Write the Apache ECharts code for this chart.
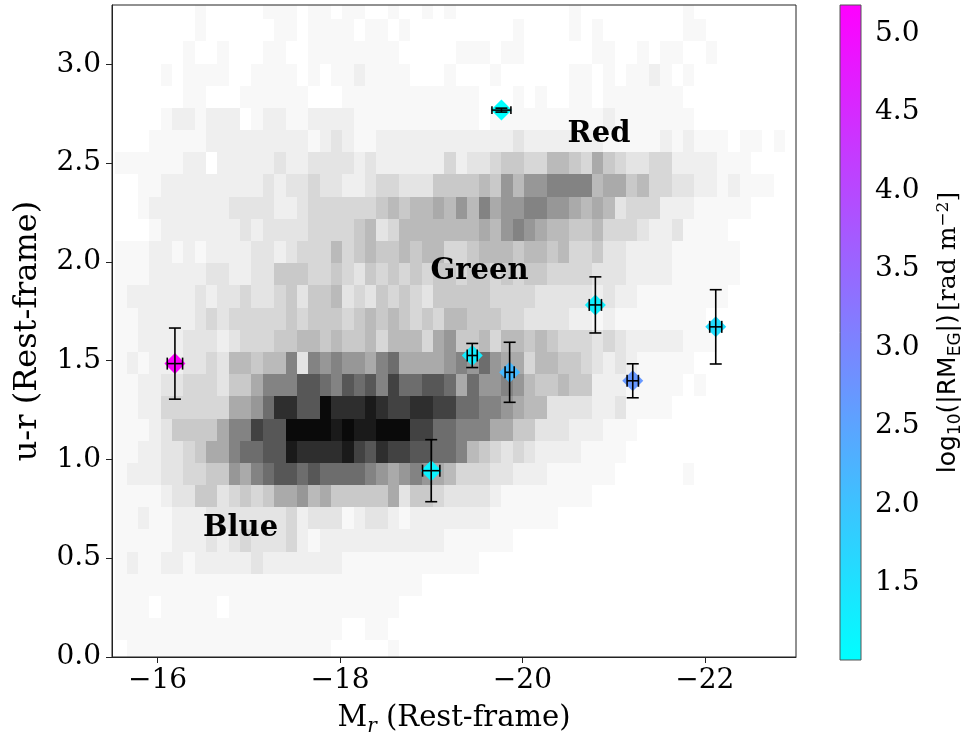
<!DOCTYPE html>
<html><head><meta charset="utf-8">
<script src="https://cdn.jsdelivr.net/npm/echarts@6/dist/echarts.min.js"></script>
<style>html,body{margin:0;padding:0;background:#fff}#c{width:965px;height:742px}</style>
</head><body><div id="c"></div>
<script>
// 2D histogram of galaxies: darkness level per bin (hex digit, 0 = empty ... f = darkest)
// rows listed from top (highest u-r) to bottom; columns from Mr = -15.5 towards -23
const HIST_ROWS = [
  "00000001000001110110" + "11001001010000000000" + "10000000001000000000",
  "00000001000000110111" + "10110100000000010000" + "10100000001100000000",
  "00000010010001100111" + "11111000001110110000" + "00110010110010000000",
  "00001011110011110101" + "12111100010001000000" + "11010112101000000000",
  "00000011000111111000" + "11111111111100010100" + "11011111110000000000",
  "00001221222012211222" + "21111111111101111111" + "11121111111000000000",
  "00011111222222222123" + "21122222222222232222" + "22211111212111011010",
  "11111122022222322333" + "32322222242334554466" + "54754334422221110000",
  "00112222222223233433" + "22344333555565868899" + "99677564433221211100",
  "00122222223333223444" + "44456566768697889988" + "76763444222111110000",
  "00012222222323333444" + "45634666666676898766" + "55644432231111000000",
  "11122121222233234446" + "45655656644566656656" + "44533222211111100000",
  "11122222332233555445" + "43545454554554545544" + "44333222211111100000",
  "12222223233433453556" + "34354543555554444333" + "33232211111111000000",
  "11222223434444454555" + "45656545466555443333" + "22121111111100000000",
  "11222233323444556656" + "55646664785564665654" + "44343222221110000000",
  "12122233436656693989" + "8879a7777898a8774665" + "54323211111000000000",
  "1122334443557999bba9" + "bab9caabba7a88986556" + "55222111110100000000",
  "1122444444778addbbfd" + "ddedccddccaa99876633" + "33223111100000000000",
  "111235555799cbbffffe" + "feefffccaa9997755333" + "22211100000000000000",
  "11223345779aabbedddd" + "ecbdccbbaa9654343222" + "21111000000000000000",
  "1222334455879abbabaa" + "aa987898764443322211" + "11110000001000000000",
  "11112335534545778675" + "55557355433332111111" + "11000000000000000000",
  "11211222333333342333" + "12332122222221111110" + "00000000000000000000",
  "11111222323433342122" + "22222222211111100000" + "00000000000000000000",
  "12112212222232222222" + "11111111111100000000" + "00000000000000000000",
  "11111111111111111111" + "11111110000000000000" + "00000000000000000000",
  "11101111101111111111" + "11111000000000000000" + "00000000000000000000",
  "11111111111111111111" + "00110000000000000000" + "00000000000000000000",
  "01111111111111111110" + "00001000000000000000" + "00000000000000000000"
];
const HIST_X_START = -15.535;  // Mr of the first bin edge
const HIST_X_STEP = -0.1245;   // bin width in Mr
const HIST_Y_START = -0.0283;  // u-r of the lowest bin edge
const HIST_Y_STEP = 0.1123;    // bin height in u-r
const GREYS = ["#ffffff","#f8f8f8","#efefef","#e4e4e4","#d7d7d7","#c9c9c9","#bababa","#aaaaaa",
               "#979797","#838383","#6d6d6d","#575757","#424242","#2e2e2e","#1a1a1a","#0a0a0a"];

// RM sources
const srcMr    = [-16.19, -19.77, -19.45, -19.86, -19.00, -20.80, -21.21, -22.12];
const srcUR    = [1.485, 2.768, 1.526, 1.441, 0.943, 1.782, 1.398, 1.671];
const srcMrErr = [0.084, 0.104, 0.055, 0.050, 0.095, 0.067, 0.062, 0.066];
const srcURErr = [0.180, 0.010, 0.061, 0.152, 0.157, 0.142, 0.086, 0.188];
const srcLogRM = [5.18, 1.01, 1.30, 2.15, 1.20, 1.25, 2.70, 1.55];

const RM_MIN = 1.01, RM_MAX = 5.18;
const xTicks = [-16, -18, -20, -22];
const yTicks = [0, 0.5, 1.0, 1.5, 2.0, 2.5, 3.0];
const cbTicks = [1.5, 2.0, 2.5, 3.0, 3.5, 4.0, 4.5, 5.0];

const regionNames = ["Red", "Green", "Blue"];
const regionMr = [-20.84, -19.53, -16.91];
const regionUR = [2.647, 1.953, 0.649];

const SERIF = '"DejaVu Serif", serif';
const SANS = '"DejaVu Sans", sans-serif';

const histData = [];
HIST_ROWS.forEach((s, i) => {
  const row = HIST_ROWS.length - 1 - i;
  for (let c = 0; c < s.length; c++) {
    const lv = parseInt(s[c], 16);
    if (lv > 0) {
      const xa = HIST_X_START + c * HIST_X_STEP;
      const ya = HIST_Y_START + row * HIST_Y_STEP;
      histData.push([xa, ya, xa + HIST_X_STEP, ya + HIST_Y_STEP, lv]);
    }
  }
});

const pts = srcMr.map((m, i) => [m, srcUR[i], srcLogRM[i]]);
const errs = srcMr.map((m, i) => [m, srcUR[i], srcMrErr[i], srcURErr[i]]);
const labels = regionNames.map((n, i) => [regionMr[i], regionUR[i], n]);

function renderHist(params, api) {
  const p0 = api.coord([api.value(0), api.value(1)]);
  const p1 = api.coord([api.value(2), api.value(3)]);
  const x0 = Math.round(Math.min(p0[0], p1[0])), x1 = Math.round(Math.max(p0[0], p1[0]));
  const y0 = Math.round(Math.min(p0[1], p1[1])), y1 = Math.round(Math.max(p0[1], p1[1]));
  const cs = params.coordSys;
  const shape = echarts.graphic.clipRectByRect(
    {x: x0, y: y0, width: x1 - x0, height: y1 - y0},
    {x: cs.x, y: cs.y, width: cs.width, height: cs.height});
  if (!shape) return;
  return {type: 'rect', shape: shape, style: {fill: GREYS[api.value(4)]}};
}

function renderErr(params, api) {
  const x = api.value(0), y = api.value(1), ex = api.value(2), ey = api.value(3);
  const c = api.coord([x, y]);
  const top = api.coord([x, y + ey]), bot = api.coord([x, y - ey]);
  const lft = api.coord([x - ex, y]), rgt = api.coord([x + ex, y]);
  const cap = 6;
  const st = {stroke: '#000', lineWidth: 1.6};
  const L = (x1, y1, x2, y2) => ({type: 'line', shape: {x1, y1, x2, y2}, style: st});
  const capY = Math.min(cap, Math.abs(bot[1] - top[1]) / 2 + 2);
  return {type: 'group', children: [
    L(c[0], top[1], c[0], bot[1]),
    L(c[0] - cap, top[1], c[0] + cap, top[1]),
    L(c[0] - cap, bot[1], c[0] + cap, bot[1]),
    L(lft[0], c[1], rgt[0], c[1]),
    L(lft[0], c[1] - capY, lft[0], c[1] + capY),
    L(rgt[0], c[1] - capY, rgt[0], c[1] + capY)
  ]};
}

function renderBar(params, api) {
  const p0 = api.coord([0, RM_MAX]);
  const p1 = api.coord([1, RM_MIN]);
  return {type: 'rect',
    shape: {x: p0[0], y: p0[1], width: p1[0] - p0[0], height: p1[1] - p0[1]},
    style: {
      fill: new echarts.graphic.LinearGradient(0, 1, 0, 0, [
        {offset: 0, color: '#00ffff'}, {offset: 1, color: '#ff00ff'}]),
      stroke: '#555', lineWidth: 1
    }};
}

const chart = echarts.init(document.getElementById('c'), null, {renderer: 'canvas'});
chart.setOption({
  animation: false,
  backgroundColor: '#fff',
  grid: [
    {left: 112, right: 169, top: 5, bottom: 82, show: true, borderColor: '#222', borderWidth: 1, backgroundColor: 'transparent', z: 10},
    {left: 840, width: 36, top: 5, bottom: 82}
  ],
  xAxis: [
    {type: 'value', gridIndex: 0, min: -23, max: -15.5, inverse: true,
     splitLine: {show: false},
     axisLine: {show: true, onZero: false, lineStyle: {color: '#222', width: 1}},
     axisTick: {show: true, length: 6, customValues: xTicks, lineStyle: {color: '#222', width: 1}},
     axisLabel: {customValues: xTicks, formatter: v => '\u2212' + Math.abs(v), fontFamily: SERIF, fontSize: 28, color: '#000', margin: 10},
     name: '{a|M}{s|r}{a| (Rest-frame)}', nameLocation: 'middle', nameGap: 43,
     nameTextStyle: {rich: {
       a: {fontFamily: SERIF, fontSize: 29, color: '#000'},
       s: {fontFamily: SERIF, fontStyle: 'italic', fontSize: 20, color: '#000', verticalAlign: 'top', padding: [17, 0, 0, 0]}
     }}},
    {type: 'value', gridIndex: 1, min: 0, max: 1, show: false}
  ],
  yAxis: [
    {type: 'value', gridIndex: 0, min: 0, max: 3.3,
     splitLine: {show: false},
     axisLine: {show: true, onZero: false, lineStyle: {color: '#222', width: 1}},
     axisTick: {show: true, length: 6, customValues: yTicks, lineStyle: {color: '#222', width: 1}},
     axisLabel: {customValues: yTicks, formatter: v => v.toFixed(1), fontFamily: SERIF, fontSize: 28, color: '#000', margin: 11},
     name: 'u-r (Rest-frame)', nameLocation: 'middle', nameGap: 68, nameRotate: 90,
     nameTextStyle: {fontFamily: SERIF, fontSize: 32, color: '#000'}},
    {type: 'value', gridIndex: 1, min: RM_MIN, max: RM_MAX, position: 'right',
     splitLine: {show: false},
     axisLine: {show: false},
     axisTick: {show: true, length: 6, customValues: cbTicks, lineStyle: {color: '#222', width: 1}},
     axisLabel: {customValues: cbTicks, formatter: v => v.toFixed(1), fontFamily: SERIF, fontSize: 28, color: '#000', margin: 14},
     name: '{s|log}{b|10}{s|(|RM}{b|EG}{s||)} {r|[rad m}{p|\u22122}{r|]}',
     nameLocation: 'middle', nameGap: 72, nameRotate: 90,
     nameTextStyle: {rich: {
       s: {fontFamily: SANS, fontSize: 25, color: '#000'},
       b: {fontFamily: SANS, fontSize: 17, color: '#000', verticalAlign: 'top', padding: [14, 0, 0, 0]},
       r: {fontFamily: SERIF, fontSize: 25, color: '#000'},
       p: {fontFamily: SERIF, fontSize: 17, color: '#000', verticalAlign: 'bottom', padding: [0, 0, 12, 0]}
     }}}
  ],
  visualMap: [{
    type: 'continuous', show: false, seriesIndex: 1, dimension: 2,
    min: RM_MIN, max: RM_MAX, inRange: {color: ['#00ffff', '#ff00ff']}
  }],
  series: [
    {type: 'custom', xAxisIndex: 0, yAxisIndex: 0, data: histData, renderItem: renderHist,
     encode: {x: [0, 2], y: [1, 3]}, z: 1, silent: true},
    {type: 'scatter', xAxisIndex: 0, yAxisIndex: 0, data: pts, symbol: 'diamond', symbolSize: 21, z: 3,
     itemStyle: {opacity: 1}},
    {type: 'custom', xAxisIndex: 0, yAxisIndex: 0, data: errs, renderItem: renderErr,
     encode: {x: 0, y: 1}, z: 4, silent: true},
    {type: 'scatter', xAxisIndex: 0, yAxisIndex: 0, data: labels, symbolSize: 0, z: 5,
     itemStyle: {opacity: 1},
     label: {show: true, position: 'inside', formatter: p => p.data[2],
       fontFamily: SERIF, fontWeight: 'bold', fontSize: 29, color: '#000', textBorderWidth: 0}},
    {type: 'custom', xAxisIndex: 1, yAxisIndex: 1, data: [[0, RM_MIN]], renderItem: renderBar, z: 2, silent: true}
  ]
});
</script></body></html>
